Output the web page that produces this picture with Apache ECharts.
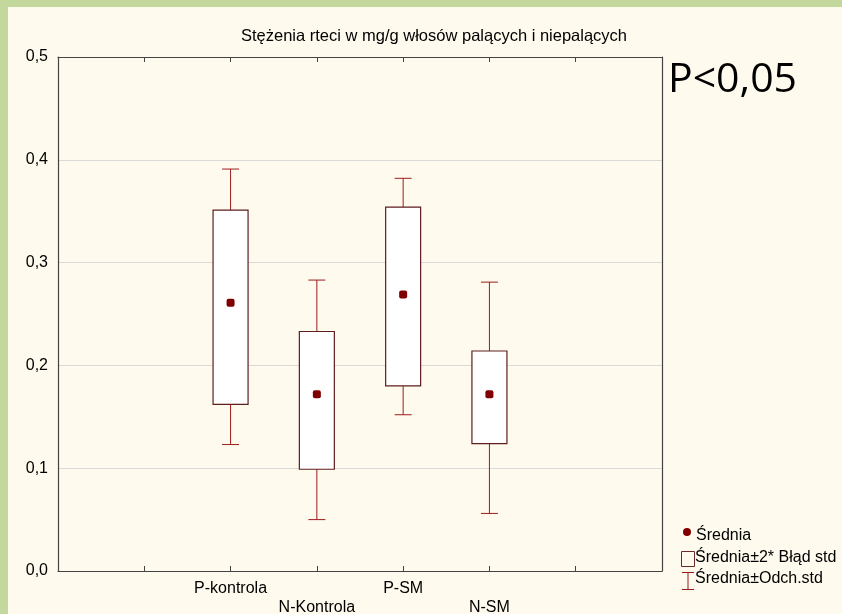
<!DOCTYPE html>
<html>
<head>
<meta charset="utf-8">
<script src="https://cdn.jsdelivr.net/npm/echarts@6/dist/echarts.min.js"></script>
<style>
  body { margin: 0; background: #c4d79c; }
  #main { position: absolute; left: 8px; top: 7px; width: 834px; height: 607px; background: #fffaee; }
</style>
</head>
<body>
<div id="main"></div>
<script>
// grupy na osi X (pozycje 2..5 na skali 0..7)
var categories = ['P-kontrola', 'N-Kontrola', 'P-SM', 'N-SM'];
var catPos = [2, 3, 4, 5];
// srednia
var means = [0.261, 0.172, 0.269, 0.172];
// srednia +/- 2* blad std
var boxLow = [0.162, 0.099, 0.180, 0.124];
var boxHigh = [0.351, 0.233, 0.354, 0.214];
// srednia +/- odch. std
var sdLow = [0.123, 0.050, 0.152, 0.056];
var sdHigh = [0.391, 0.283, 0.382, 0.281];
var yTicks = [0, 0.1, 0.2, 0.3, 0.4, 0.5];

var font = 'Liberation Sans, Arial, sans-serif';

var boxData = [], sdData = [], meanData = [];
for (var i = 0; i < categories.length; i++) {
    boxData.push([catPos[i], boxLow[i], boxHigh[i]]);
    sdData.push([catPos[i], sdLow[i], sdHigh[i]]);
    meanData.push([catPos[i], means[i]]);
}

function renderWhisker(params, api) {
    var x = api.value(0);
    var lo = api.coord([x, api.value(1)]);
    var hi = api.coord([x, api.value(2)]);
    var cap = 8.5;
    var st = { stroke: '#9c1c1c', lineWidth: 1 };
    return {
        type: 'group',
        children: [
            { type: 'line', shape: { x1: lo[0], y1: lo[1], x2: hi[0], y2: hi[1] }, style: st },
            { type: 'line', shape: { x1: lo[0] - cap, y1: lo[1], x2: lo[0] + cap, y2: lo[1] }, style: st },
            { type: 'line', shape: { x1: hi[0] - cap, y1: hi[1], x2: hi[0] + cap, y2: hi[1] }, style: st }
        ]
    };
}

function renderBox(params, api) {
    var x = api.value(0);
    var lo = api.coord([x, api.value(1)]);
    var hi = api.coord([x, api.value(2)]);
    var w = 35;
    return {
        type: 'rect',
        shape: { x: lo[0] - w / 2, y: hi[1], width: w, height: lo[1] - hi[1] },
        style: { fill: '#ffffff', stroke: '#5e1e1e', lineWidth: 1.2 }
    };
}

var frameLine = { show: true, onZero: false, lineStyle: { color: '#444', width: 1.2 } };

var myChart = echarts.init(document.getElementById('main'));
var option = {
    animation: false,
    title: {
        text: 'Stężenia rteci w mg/g włosów palących i niepalących',
        left: 421,
        textAlign: 'center',
        top: 16,
        textStyle: { fontFamily: font, fontSize: 16.5, fontWeight: 'normal', color: '#000' }
    },
    grid: { left: 50, top: 50, right: 180, bottom: 43, outerBoundsMode: 'none', containLabel: false },
    xAxis: [
        {
            type: 'value', min: 0, max: 7, interval: 1,
            axisLine: frameLine,
            axisTick: { inside: true, length: 5, lineStyle: { color: '#444' } },
            splitLine: { show: false },
            axisLabel: {
                fontFamily: font, fontSize: 16, color: '#000', margin: 8, lineHeight: 19,
                formatter: function (v) {
                    var k = catPos.indexOf(v);
                    if (k < 0) return '';
                    return (k % 2 === 1 ? '\n' : '') + categories[k];
                }
            }
        },
        {
            type: 'value', min: 0, max: 7, interval: 1, position: 'top',
            axisLine: frameLine,
            axisTick: { inside: true, length: 5, lineStyle: { color: '#444' } },
            axisLabel: { show: false },
            splitLine: { show: false }
        }
    ],
    yAxis: [
        {
            type: 'value', min: yTicks[0], max: yTicks[yTicks.length - 1], interval: 0.1,
            axisLine: frameLine,
            axisTick: { show: false },
            splitLine: { lineStyle: { color: '#d9d9d9' } },
            axisLabel: {
                fontFamily: font, fontSize: 16, color: '#000', margin: 10,
                formatter: function (v) { return v.toFixed(1).replace('.', ','); }
            }
        },
        {
            type: 'value', min: 0, max: 0.5, interval: 0.1, position: 'right',
            axisLine: frameLine,
            axisTick: { show: false },
            axisLabel: { show: false },
            splitLine: { show: false }
        }
    ],
    series: [
        { name: 'Średnia±Odch.std', type: 'custom', renderItem: renderWhisker, data: sdData, z: 2 },
        { name: 'Średnia±2* Błąd std', type: 'custom', renderItem: renderBox, data: boxData, z: 3 },
        {
            name: 'Średnia', type: 'scatter', data: meanData, z: 4,
            symbol: 'roundRect', symbolSize: 8,
            itemStyle: { color: '#800000', opacity: 1 }
        }
    ],
    graphic: [
        {
            type: 'text', left: 660, top: 53,
            style: { text: 'P<0,05', font: '41px "Open Sans", sans-serif', fill: '#000' }
        },
        // legenda
        { type: 'circle', shape: { cx: 679, cy: 525, r: 4 }, style: { fill: '#800000' } },
        { type: 'text', x: 688, y: 529, style: { text: 'Średnia', font: '16px ' + font, fill: '#000', verticalAlign: 'middle' } },
        { type: 'rect', shape: { x: 673.5, y: 544.5, width: 13, height: 15 }, style: { fill: '#fffaee', stroke: '#6b2a2a', lineWidth: 1 } },
        { type: 'text', x: 687, y: 551, style: { text: 'Średnia±2* Błąd std', font: '16px ' + font, fill: '#000', verticalAlign: 'middle' } },
        { type: 'line', shape: { x1: 674, y1: 565.5, x2: 686, y2: 565.5 }, style: { stroke: '#9c1c1c', lineWidth: 1 } },
        { type: 'line', shape: { x1: 680, y1: 565.5, x2: 680, y2: 582.5 }, style: { stroke: '#9c1c1c', lineWidth: 1 } },
        { type: 'line', shape: { x1: 674, y1: 582.5, x2: 686, y2: 582.5 }, style: { stroke: '#9c1c1c', lineWidth: 1 } },
        { type: 'text', x: 687, y: 572, style: { text: 'Średnia±Odch.std', font: '16px ' + font, fill: '#000', verticalAlign: 'middle' } }
    ]
};
myChart.setOption(option);
</script>
</body>
</html>
